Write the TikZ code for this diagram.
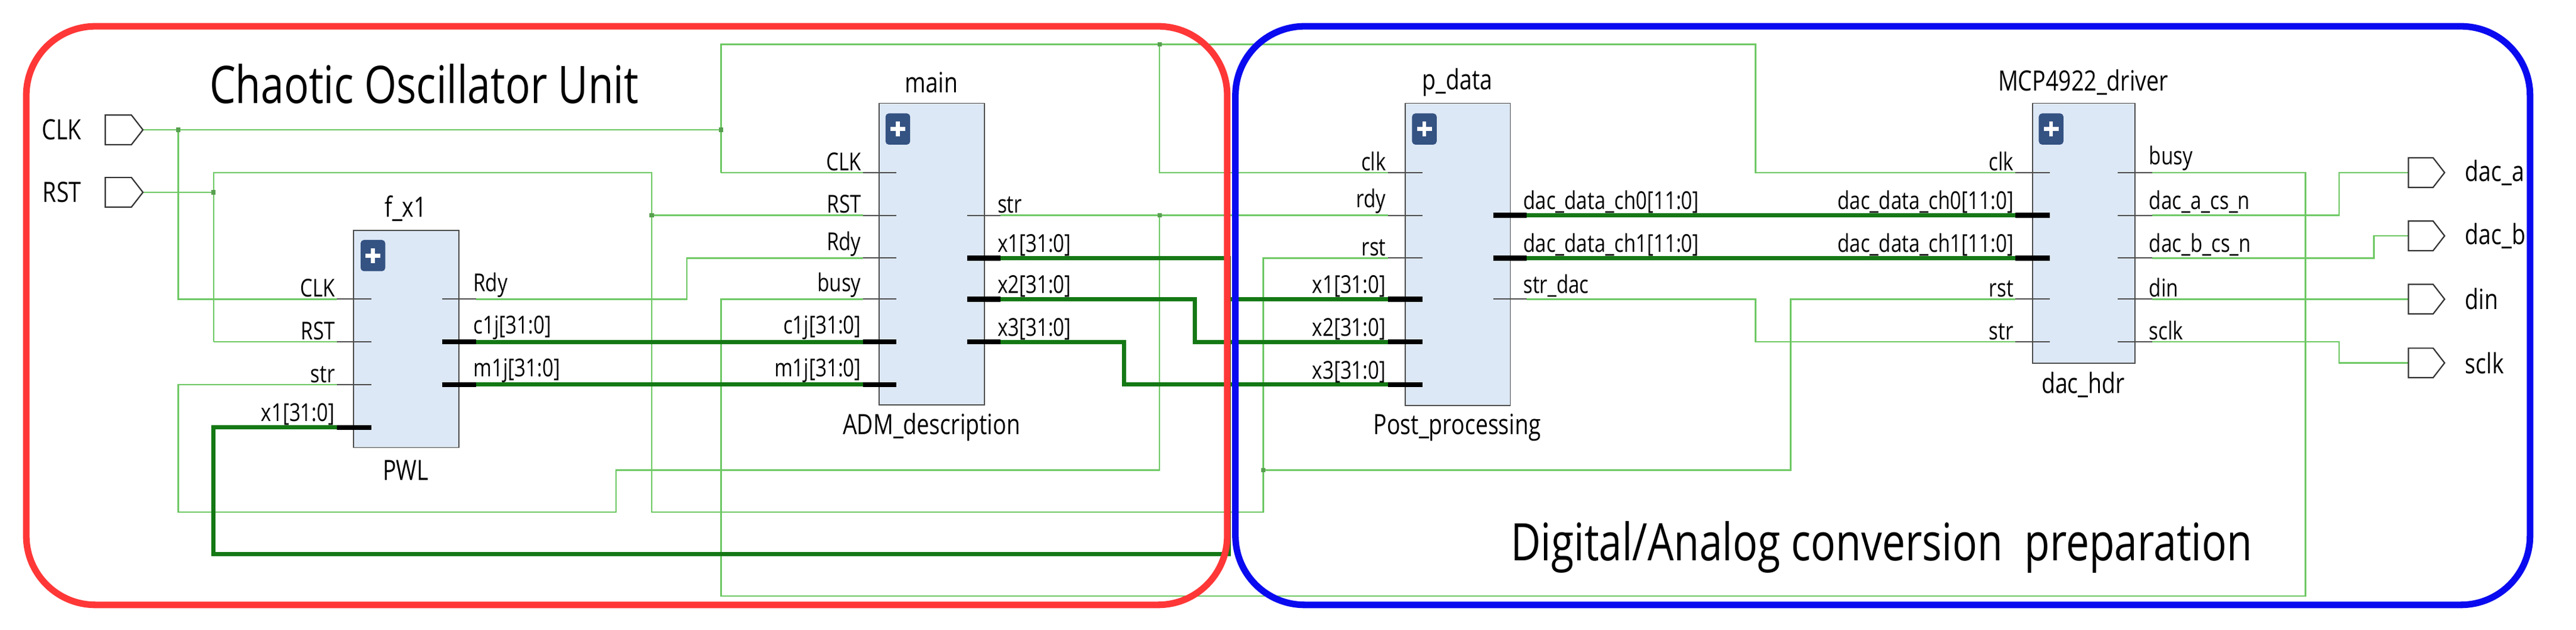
\documentclass[tikz,border=0pt]{standalone}
\usepackage{fontspec}
\setmainfont{Open Sans}[FakeStretch=0.8]
\begin{document}
\begin{tikzpicture}[x=1pt,y=-1pt,
  wire/.style={draw=wgreen,line width=0.9pt},
  bus/.style={draw=bgreen,line width=2.6pt},
  blk/.style={draw=black!70,fill=boxblue,line width=0.6pt,anchor=north west,inner sep=0},
  pinl/.style={font=\fontsize{15}{15}\selectfont,anchor=south east,inner sep=1pt},
  pinr/.style={font=\fontsize{15}{15}\selectfont,anchor=south west,inner sep=1pt},
  ttl/.style={font=\fontsize{17}{17}\selectfont},
  big/.style={font=\fontsize{31.5}{31.5}\selectfont},
  port/.style={draw=black!80,line width=0.8pt,fill=white},
  dot/.style={fill=wgreen!80!black,minimum size=2.6pt,inner sep=0,rectangle}]
\definecolor{wgreen}{RGB}{110,200,100}
\definecolor{bgreen}{RGB}{20,120,20}
\definecolor{boxblue}{RGB}{221,232,246}
\definecolor{plusblue}{RGB}{52,82,130}
\definecolor{rbox}{RGB}{255,55,55}
\definecolor{bbox}{RGB}{10,10,240}
\newcommand\PlusIcon[2]{\fill[plusblue,rounded corners=2pt] (#1,#2) rectangle ++(15,19);
  \fill[white] (#1+6.3,#2+5) rectangle ++(2.4,9); \fill[white] (#1+3,#2+8.3) rectangle ++(9,2.4);}
\newcommand\Lstub[3]{\draw[black!70,line width=0.7pt] (#1,#3) -- (#2,#3);}
\newcommand\Lbus[3]{\draw[black,line width=3pt] (#1,#3) -- (#2,#3);}
\useasboundingbox (0,0) rectangle (1568,383);
\fill[white] (0,0) rectangle (1568,383);

% ---------- ports coordinates
\coordinate (clkp) at (87,79); \coordinate (rstp) at (87,117);

% ---------- thin wires
% CLK net
\draw[wire] (clkp) -- (438.9,79);
\draw[wire] (108.5,79) -- (108.5,182) -- (205,182);
\draw[wire] (438.9,105) -- (438.9,27) -- (1068.5,27) -- (1068.5,105) -- (1226.8,105);
\draw[wire] (438.9,105) -- (525.3,105);
\draw[wire] (705.8,27) -- (705.8,105) -- (844.8,105);
% RST net
\draw[wire] (rstp) -- (130,117);
\draw[wire] (130,208) -- (205,208);
\draw[wire] (130,208) -- (130,105) -- (396.7,105) -- (396.7,311.5) -- (769,311.5) -- (769,157) -- (844.8,157);
\draw[wire] (396.7,131) -- (525.3,131);
\draw[wire] (769,286) -- (1090,286) -- (1090,182) -- (1226.8,182);
% str net
\draw[wire] (609,131) -- (844.8,131);
\draw[wire] (705.8,131) -- (705.8,286) -- (375,286) -- (375,311.5) -- (108.5,311.5) -- (108.5,234) -- (205,234);
% Rdy
\draw[wire] (290,182) -- (418,182) -- (418,157) -- (525.3,157);
% busy
\draw[wire] (1310,105) -- (1403.4,105) -- (1403.4,362.6) -- (438.9,362.6) -- (438.9,182) -- (525.3,182);
% str_dac
\draw[wire] (929.2,182) -- (1068.5,182) -- (1068.5,208) -- (1226.8,208);
% outputs
\draw[wire] (1310,131) -- (1423.8,131) -- (1423.8,105) -- (1466,105);
\draw[wire] (1310,157) -- (1444.9,157) -- (1444.9,143.5) -- (1466,143.5);
\draw[wire] (1310,182) -- (1466,182);
\draw[wire] (1310,208) -- (1423.8,208) -- (1423.8,220.8) -- (1466,220.8);

% ---------- buses
\draw[bus] (290,208) -- (525.3,208);
\draw[bus] (290,234) -- (525.3,234);
\draw[bus] (609,157) -- (748,157) -- (748,337) -- (130,337) -- (130,260) -- (205,260);
\draw[bus] (748,182) -- (844.8,182);
\draw[bus] (609,182) -- (727.4,182) -- (727.4,208) -- (844.8,208);
\draw[bus] (609,208) -- (684.2,208) -- (684.2,234) -- (844.8,234);
\draw[bus] (929.2,131) -- (1226.8,131);
\draw[bus] (929.2,157) -- (1226.8,157);

% junctions
\foreach \p in {(108.5,79),(130,117),(438.9,79),(705.8,27),(396.7,131),(705.8,131),(769,286)}
  \node[dot] at \p {};

% ---------- blocks
\node[blk,minimum width=64pt,minimum height=132pt] (fx1) at (215,140) {};
\node[blk,minimum width=64.3pt,minimum height=183.4pt] (main) at (534.7,62.6) {};
\node[blk,minimum width=64pt,minimum height=183.9pt] (pdata) at (855,62.6) {};
\node[blk,minimum width=62.2pt,minimum height=158.2pt] (mcp) at (1237,62.6) {};
\PlusIcon{219.5}{146} \PlusIcon{539}{69} \PlusIcon{859.5}{69} \PlusIcon{1241}{69}

% f_x1
\node[ttl] at (247,127) {f\_x1};
\node[ttl] at (247,286) {PWL};
\foreach \y/\t in {182/CLK,208/RST,234/str}{\Lstub{205}{226}{\y}\node[pinl] at (205,\y) {\t};}
\Lbus{205}{226}{260}\node[pinl] at (205,260) {x1[31:0]};
\Lstub{269}{290}{182}\node[pinr] at (287,182) {Rdy};
\Lbus{269}{290}{208}\node[pinr] at (287,208) {c1j[31:0]};
\Lbus{269}{290}{234}\node[pinr] at (287,234) {m1j[31:0]};
% main
\node[ttl] at (567,50) {main};
\node[ttl] at (567,260) {ADM\_description};
\foreach \y/\t in {105/CLK,131/RST,157/Rdy,182/busy}{\Lstub{525.3}{545.6}{\y}\node[pinl] at (525.3,\y) {\t};}
\Lbus{525.3}{545.6}{208}\node[pinl] at (525.3,208) {c1j[31:0]};
\Lbus{525.3}{545.6}{234}\node[pinl] at (525.3,234) {m1j[31:0]};
\Lstub{588.8}{609}{131}\node[pinr] at (606,131) {str};
\foreach \y/\t in {157/x1[31:0],182/x2[31:0],208/x3[31:0]}{\Lbus{588.8}{609}{\y}\node[pinr] at (606,\y) {\t};}
% p_data
\node[ttl] at (887,50) {p\_data};
\node[ttl] at (887,260) {Post\_processing};
\foreach \y/\t in {105/clk,131/rdy,157/rst}{\Lstub{844.8}{865.9}{\y}\node[pinl] at (844.8,\y) {\t};}
\foreach \y/\t in {182/x1[31:0],208/x2[31:0],234/x3[31:0]}{\Lbus{844.8}{865.9}{\y}\node[pinl] at (844.8,\y) {\t};}
\Lbus{908.8}{929.2}{131}\node[pinr] at (926,131) {dac\_data\_ch0[11:0]};
\Lbus{908.8}{929.2}{157}\node[pinr] at (926,157) {dac\_data\_ch1[11:0]};
\Lstub{908.8}{929.2}{182}\node[pinr] at (926,182) {str\_dac};
% MCP
\node[ttl] at (1268,50) {MCP4922\_driver};
\node[ttl] at (1268,234) {dac\_hdr};
\foreach \y/\t in {105/clk,182/rst,208/str}{\Lstub{1226.8}{1247.6}{\y}\node[pinl] at (1226.8,\y) {\t};}
\Lbus{1226.8}{1247.6}{131}\node[pinl] at (1226.8,131) {dac\_data\_ch0[11:0]};
\Lbus{1226.8}{1247.6}{157}\node[pinl] at (1226.8,157) {dac\_data\_ch1[11:0]};
\foreach \y/\t in {105/busy,131/dac\_a\_cs\_n,157/dac\_b\_cs\_n,182/din,208/sclk}{\Lstub{1289}{1310}{\y}\node[pinr] at (1307,\y) {\t};}

% ---------- ports
\foreach \y/\n in {79/pclk,117/prst}
  \draw[port] (64,\y-9) -- (80,\y-9) -- (87,\y) -- (80,\y+9) -- (64,\y+9) -- cycle;
\node[ttl,anchor=east] (lclk) at (53,79) {CLK};
\node[ttl,anchor=east] (lrst) at (53,117) {RST};
\foreach \y/\t in {105/dac\_a,143.5/dac\_b,182/din,220.8/sclk}{
  \draw[port] (1466,\y-9) -- (1481,\y-9) -- (1488,\y) -- (1481,\y+9) -- (1466,\y+9) -- cycle;
  \node[ttl,anchor=west] at (1497,\y) {\t};}

% ---------- group frames
\draw[rbox,line width=4pt,rounded corners=42pt] (16,16) rectangle (747,368);
\draw[bbox,line width=4pt,rounded corners=42pt] (752,16) rectangle (1540,368);
\node[big,anchor=west] at (124,51) {Chaotic Oscillator Unit};
\node[big,anchor=west] at (916,333) {Digital/Analog conversion\ \ preparation};
\end{tikzpicture}
\end{document}
